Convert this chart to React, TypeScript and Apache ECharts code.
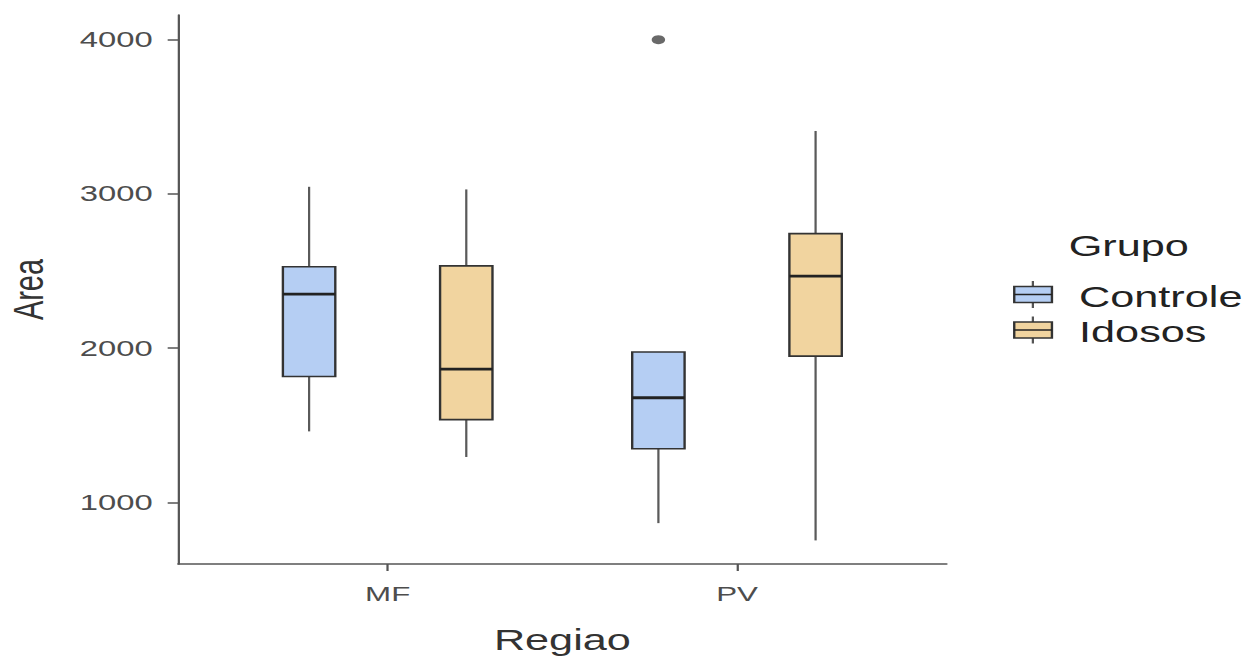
import React, { useEffect, useRef } from "react";
import * as echarts from "echarts";

// ---- data ----
const regions = ["MF", "PV"];
const groups = ["Controle", "Idosos"];
// per region: [lower whisker, Q1, median, Q3, upper whisker]
const controleStats = [
  [1460, 1816, 2350, 2528, 3046],
  [865, 1347, 1678, 1975, 1975],
];
const idososStats = [
  [1294, 1536, 1864, 2533, 3029],
  [753, 1948, 2467, 2742, 3408],
];
// outliers: [region index, value]
const controleOutliers = [[1, 4000]];
const idososOutliers: number[][] = [];
const yTicks = [1000, 2000, 3000, 4000];
const xTicks = [1, 2];

// ---- layout / style ----
const W = 1246;
const H = 656;
const INNER_W = 836;
const STRETCH = W / INNER_W;
const DODGE = 0.225;
const BOX_W = 0.15;
const colors = ["#B5CEF3", "#F1D49F"];
const FONT = "'Liberation Sans', Arial, sans-serif";

function boxSeries(name: string, stats: number[][], gi: number) {
  return {
    type: "custom",
    name,
    clip: false,
    data: stats.map((s, i) => [i + 1, ...s]),
    encode: { x: 0, y: [1, 2, 3, 4, 5] },
    renderItem: (params: any, api: any) => {
      const x = api.value(0) + (gi - 0.5) * 2 * DODGE;
      const lo = api.coord([x, api.value(1)]);
      const q1 = api.coord([x, api.value(2)]);
      const med = api.coord([x, api.value(3)]);
      const q3 = api.coord([x, api.value(4)]);
      const hi = api.coord([x, api.value(5)]);
      const half = api.size([BOX_W, 0])[0] / 2;
      const cx = lo[0];
      const wStyle = { stroke: "#5a5a5a", lineWidth: 1.5 };
      return {
        type: "group",
        children: [
          { type: "line", shape: { x1: cx, y1: q3[1], x2: cx, y2: hi[1] }, style: wStyle },
          { type: "line", shape: { x1: cx, y1: q1[1], x2: cx, y2: lo[1] }, style: wStyle },
          {
            type: "rect",
            shape: { x: cx - half, y: q3[1], width: 2 * half, height: q1[1] - q3[1] },
            style: { fill: colors[gi], stroke: "#333", lineWidth: 1.6 },
          },
          {
            type: "line",
            shape: { x1: cx - half, y1: med[1], x2: cx + half, y2: med[1] },
            style: { stroke: "#222", lineWidth: 2.8 },
          },
        ],
      };
    },
  };
}

function outlierSeries(name: string, pts: number[][], gi: number) {
  return {
    type: "scatter",
    name,
    symbol: "circle",
    symbolSize: 9,
    itemStyle: { color: "#444" },
    data: pts.map(([ri, v]) => [ri + 1 + (gi - 0.5) * 2 * DODGE, v]),
  };
}

function legendGraphics() {
  const els: any[] = [
    {
      type: "text",
      x: 717,
      y: 246,
      style: { text: "Grupo", fontSize: 29, fontFamily: FONT, fill: "#222", verticalAlign: "middle" },
    },
  ];
  groups.forEach((g, i) => {
    const cy = 294.5 + i * 35.5;
    els.push(
      { type: "line", shape: { x1: 693, y1: cy - 13.5, x2: 693, y2: cy + 13.5 }, style: { stroke: "#555", lineWidth: 1.5 } },
      { type: "rect", shape: { x: 680.5, y: cy - 8, width: 25.3, height: 16 }, style: { fill: colors[i], stroke: "#333", lineWidth: 1.6 } },
      { type: "line", shape: { x1: 680.5, y1: cy, x2: 705.8, y2: cy }, style: { stroke: "#222", lineWidth: 1.6 } },
      {
        type: "text",
        x: 724,
        y: cy + 2.5,
        style: { text: g, fontSize: 29, fontFamily: FONT, fill: "#222", verticalAlign: "middle" },
      }
    );
  });
  return els;
}

export default function App() {
  const ref = useRef<HTMLDivElement>(null);
  useEffect(() => {
    if (!ref.current) return;
    const chart = echarts.init(ref.current, null, { renderer: "svg" });
    const axisLine = { show: true, lineStyle: { color: "#555", width: 1.5 } };
    chart.setOption({
      animation: false,
      backgroundColor: "#fff",
      textStyle: { fontFamily: FONT },
      grid: { left: 119.5, right: INNER_W - 635.1, top: 15, bottom: 92, containLabel: false, outerBoundsMode: "none" },
      xAxis: {
        type: "value",
        min: 0.4,
        max: 2.6,
        name: "Regiao",
        nameLocation: "middle",
        nameGap: 62,
        nameTextStyle: { fontSize: 29, color: "#333", fontFamily: FONT },
        axisLine,
        axisTick: { show: true, length: 7, customValues: xTicks, lineStyle: { color: "#555", width: 1.5 } },
        axisLabel: {
          customValues: xTicks,
          formatter: (v: number) => regions[Math.round(v) - 1] ?? "",
          fontSize: 21,
          color: "#4D4D4D",
          margin: 19,
          fontFamily: FONT,
        },
        splitLine: { show: false },
      },
      yAxis: {
        type: "value",
        min: 600,
        max: 4160,
        name: "Area",
        nameLocation: "middle",
        nameGap: 86,
        nameTextStyle: { fontSize: 29, color: "#333", fontFamily: FONT },
        axisLine,
        axisTick: { show: true, length: 7, customValues: yTicks, lineStyle: { color: "#555", width: 1.5 } },
        axisLabel: {
          customValues: yTicks,
          formatter: (v: number) => String(v),
          fontSize: 22,
          color: "#4D4D4D",
          margin: 17,
          fontFamily: FONT,
        },
        splitLine: { show: false },
      },
      series: [
        boxSeries(groups[0], controleStats, 0),
        boxSeries(groups[1], idososStats, 1),
        outlierSeries(groups[0] + " outliers", controleOutliers, 0),
        outlierSeries(groups[1] + " outliers", idososOutliers, 1),
      ],
      graphic: legendGraphics(),
    });
    return () => chart.dispose();
  }, []);
  return (
    <div style={{ position: "fixed", left: 0, top: 0, width: W, height: H, overflow: "hidden", background: "#fff" }}>
      <div
        ref={ref}
        style={{ width: INNER_W, height: H, transform: `scaleX(${STRETCH})`, transformOrigin: "0 0" }}
      />
    </div>
  );
}
